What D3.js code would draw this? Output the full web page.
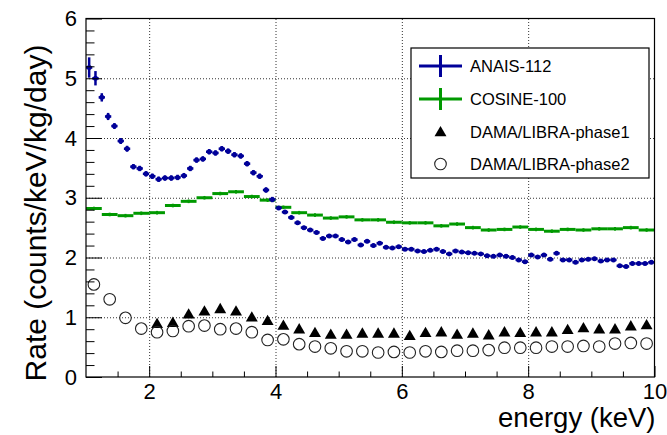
<!DOCTYPE html>
<html><head><meta charset="utf-8">
<script src="https://cdn.jsdelivr.net/npm/d3@7"></script>
<style>
html,body{margin:0;padding:0;background:#fff;}
svg{display:block;font-family:"Liberation Sans",Arial,Helvetica,sans-serif;}
</style></head><body>
<svg id="chart" width="667" height="435"></svg>
<script>
// ---------------- data ----------------
const anaisEnergy = [1.05,1.15,1.25,1.35,1.45,1.55,1.65,1.75,1.85,1.95,2.05,2.15,2.25,2.35,2.45,2.55,2.65,2.75,2.85,2.95,3.05,3.15,3.25,3.35,3.45,3.55,3.65,3.75,3.85,3.95,4.05,4.15,4.25,4.35,4.45,4.55,4.65,4.75,4.85,4.95,5.05,5.15,5.25,5.35,5.45,5.55,5.65,5.75,5.85,5.95,6.05,6.15,6.25,6.35,6.45,6.55,6.65,6.75,6.85,6.95,7.05,7.15,7.25,7.35,7.45,7.55,7.65,7.75,7.85,7.95,8.05,8.15,8.25,8.35,8.45,8.55,8.65,8.75,8.85,8.95,9.05,9.15,9.25,9.35,9.45,9.55,9.65,9.75,9.85,9.95];
const anaisRate = [5.18,5.00,4.68,4.36,4.20,3.95,3.82,3.52,3.49,3.40,
  3.36,3.31,3.33,3.33,3.34,3.37,3.49,3.63,3.65,3.77,
  3.75,3.82,3.78,3.72,3.70,3.57,3.42,3.36,3.13,2.97,
  2.83,2.76,2.67,2.58,2.50,2.46,2.42,2.32,2.36,2.36,
  2.30,2.26,2.30,2.21,2.27,2.20,2.24,2.17,2.16,2.18,
  2.14,2.14,2.11,2.10,2.12,2.14,2.10,2.06,2.11,2.09,
  2.08,2.07,2.06,2.03,2.02,2.04,2.02,2.00,1.96,1.93,
  2.04,2.01,2.04,1.97,2.07,1.96,1.96,1.92,1.96,1.97,
  1.98,1.94,1.96,1.96,1.86,1.85,1.90,1.90,1.90,1.92];
const anaisErr = [0.17,0.12,0.07,0.06,0.05,0.05,0.05,0.045,0.045,0.045,
  0.045,0.045,0.045,0.045,0.045,0.045,0.045,0.045,0.045,0.045,
  0.045,0.045,0.045,0.045,0.045,0.045,0.045,0.045,0.045,0.045,
  0.03,0.03,0.03,0.03,0.03,0.03,0.03,0.03,0.03,0.03,
  0.03,0.03,0.03,0.03,0.03,0.03,0.03,0.03,0.03,0.03,
  0.03,0.03,0.03,0.03,0.03,0.03,0.03,0.03,0.03,0.03,
  0.03,0.03,0.03,0.03,0.03,0.03,0.03,0.03,0.03,0.03,
  0.03,0.03,0.03,0.03,0.03,0.03,0.03,0.03,0.03,0.03,
  0.03,0.03,0.03,0.03,0.03,0.03,0.03,0.03,0.03,0.03];
const anaisHalfBin = 0.05;

const cosineEnergy = [1.125,1.375,1.625,1.875,2.125,2.375,2.625,2.875,3.125,3.375,3.625,3.875,4.125,4.375,4.625,4.875,5.125,5.375,5.625,5.875,6.125,6.375,6.625,6.875,7.125,7.375,7.625,7.875,8.125,8.375,8.625,8.875,9.125,9.375,9.625,9.875];
const cosineRate = [2.82,2.72,2.70,2.74,2.75,2.87,2.94,3.00,3.07,3.10,3.02,2.96,
  2.84,2.75,2.71,2.66,2.68,2.63,2.63,2.59,2.58,2.58,2.53,2.56,
  2.50,2.46,2.47,2.51,2.47,2.44,2.47,2.46,2.48,2.48,2.50,2.46];
const cosineErr = 0.03;
const cosineHalfBin = 0.125;

const dama1Energy = [2.125,2.375,2.625,2.875,3.125,3.375,3.625,3.875,4.125,4.375,4.625,4.875,5.125,5.375,5.625,5.875,6.125,6.375,6.625,6.875,7.125,7.375,7.625,7.875,8.125,8.375,8.625,8.875,9.125,9.375,9.625,9.875];
const dama1Rate = [0.89,0.91,1.05,1.10,1.14,1.10,1.00,0.94,0.86,0.80,
  0.74,0.71,0.71,0.73,0.73,0.73,0.69,0.74,0.75,0.71,
  0.73,0.70,0.75,0.74,0.75,0.75,0.79,0.82,0.80,0.80,0.85,0.87];

const dama2Energy = [1.125,1.375,1.625,1.875,2.125,2.375,2.625,2.875,3.125,3.375,3.625,3.875,4.125,4.375,4.625,4.875,5.125,5.375,5.625,5.875,6.125,6.375,6.625,6.875,7.125,7.375,7.625,7.875,8.125,8.375,8.625,8.875,9.125,9.375,9.625,9.875];
const dama2Rate = [1.55,1.30,0.99,0.81,0.75,0.77,0.85,0.86,0.80,0.81,0.75,0.62,
  0.63,0.55,0.51,0.48,0.43,0.43,0.41,0.42,0.41,0.43,0.42,0.44,
  0.44,0.45,0.49,0.49,0.49,0.51,0.51,0.52,0.51,0.56,0.57,0.56];

const xDomain = [1,10];
const yDomain = [0,6];
const xLabelTicks = [2,4,6,8,10];
const xMinorTicks = [1.5,2.5,3,3.5,4.5,5,5.5,6.5,7,7.5,8.5,9,9.5];
const xGridTicks = [2,4,6,8];
const yLabelTicks = [0,1,2,3,4,5,6];
const yMinorTicks = [0.2,0.4,0.6,0.8,1.2,1.4,1.6,1.8,2.2,2.4,2.6,2.8,3.2,3.4,3.6,3.8,4.2,4.4,4.6,4.8,5.2,5.4,5.6,5.8];
const yGridTicks = [1,2,3,4,5];
const legendLabels = ["ANAIS-112","COSINE-100","DAMA/LIBRA-phase1","DAMA/LIBRA-phase2"];
const xTitle = "energy (keV)";
const yTitle = "Rate (counts/keV/kg/day)";

// ---------------- chart ----------------
const W = 667, H = 435;
const M = {left:86, top:18.5, right:12.5, bottom:58};
const iw = W - M.left - M.right, ih = H - M.top - M.bottom;
const BLUE = "#000099", GREEN = "#009900";
const FONT = "Liberation Sans, Arial, sans-serif";

const x = d3.scaleLinear().domain(xDomain).range([0, iw]);
const y = d3.scaleLinear().domain(yDomain).range([ih, 0]);
const fmt = d3.format("d");

const svg = d3.select("#chart");
svg.append("rect").attr("width",W).attr("height",H).attr("fill","#fff");
const g = svg.append("g").attr("transform",`translate(${M.left},${M.top})`);

// grid
g.append("g").attr("transform",`translate(0,${ih})`)
  .call(d3.axisBottom(x).tickValues(xGridTicks).tickSize(-ih).tickFormat(""))
  .call(s=>s.select(".domain").remove())
  .selectAll("line").attr("stroke","#333").attr("stroke-dasharray","1,2").attr("stroke-width",1);
g.append("g")
  .call(d3.axisLeft(y).tickValues(yGridTicks).tickSize(-iw).tickFormat(""))
  .call(s=>s.select(".domain").remove())
  .selectAll("line").attr("stroke","#333").attr("stroke-dasharray","1,2").attr("stroke-width",1);

// COSINE-100
const cos = g.append("g");
cos.selectAll("line.h").data(cosineEnergy).join("line").attr("class","h")
  .attr("x1",(d)=>x(d-cosineHalfBin)).attr("x2",(d)=>x(d+cosineHalfBin))
  .attr("y1",(d,i)=>y(cosineRate[i])).attr("y2",(d,i)=>y(cosineRate[i]))
  .attr("stroke",GREEN).attr("stroke-width",3);
cos.selectAll("line.v").data(cosineEnergy).join("line").attr("class","v")
  .attr("x1",(d)=>x(d)).attr("x2",(d)=>x(d))
  .attr("y1",(d,i)=>y(cosineRate[i]-cosineErr)).attr("y2",(d,i)=>y(cosineRate[i]+cosineErr))
  .attr("stroke",GREEN).attr("stroke-width",2);

// ANAIS-112
const an = g.append("g");
an.selectAll("line.h").data(anaisEnergy).join("line").attr("class","h")
  .attr("x1",(d)=>x(d-anaisHalfBin)).attr("x2",(d)=>x(d+anaisHalfBin))
  .attr("y1",(d,i)=>y(anaisRate[i])).attr("y2",(d,i)=>y(anaisRate[i]))
  .attr("stroke",BLUE).attr("stroke-width",2.5);
an.selectAll("line.v").data(anaisEnergy).join("line").attr("class","v")
  .attr("x1",(d)=>x(d)).attr("x2",(d)=>x(d))
  .attr("y1",(d,i)=>y(anaisRate[i]-anaisErr[i])).attr("y2",(d,i)=>y(anaisRate[i]+anaisErr[i]))
  .attr("stroke",BLUE).attr("stroke-width",2.5);
an.selectAll("circle").data(anaisEnergy).join("circle")
  .attr("cx",(d)=>x(d)).attr("cy",(d,i)=>y(anaisRate[i])).attr("r",2.5).attr("fill",BLUE);

// DAMA phase1 triangles
const tri = d3.symbol().type(d3.symbolTriangle).size(62);
g.append("g").selectAll("path").data(dama1Energy).join("path")
  .attr("d",tri).attr("fill","#000")
  .attr("transform",(d,i)=>`translate(${x(d)},${y(dama1Rate[i])+0.8})`);

// DAMA phase2 open circles
g.append("g").selectAll("circle").data(dama2Energy).join("circle")
  .attr("cx",(d)=>x(d)).attr("cy",(d,i)=>y(dama2Rate[i])).attr("r",5.8)
  .attr("fill","none").attr("stroke","#222").attr("stroke-width",1.1);

// axes ticks (inward)
const xAxisG = g.append("g").attr("transform",`translate(0,${ih})`);
xAxisG.append("g").call(d3.axisBottom(x).tickValues(xMinorTicks).tickSizeInner(-5.5).tickSizeOuter(0).tickFormat(""))
  .call(s=>s.select(".domain").remove()).selectAll("line").attr("stroke","#000");
xAxisG.append("g").call(d3.axisBottom(x).tickValues(xLabelTicks).tickSizeInner(-11).tickSizeOuter(0).tickPadding(6).tickFormat(fmt))
  .call(s=>s.select(".domain").remove())
  .call(s=>s.selectAll("line").attr("stroke","#000"))
  .call(s=>s.selectAll("text").attr("font-size",22).attr("fill","#000").attr("font-family",FONT));
const yAxisG = g.append("g");
yAxisG.append("g").call(d3.axisLeft(y).tickValues(yMinorTicks).tickSizeInner(-8.5).tickSizeOuter(0).tickFormat(""))
  .call(s=>s.select(".domain").remove()).selectAll("line").attr("stroke","#000");
yAxisG.append("g").call(d3.axisLeft(y).tickValues(yLabelTicks).tickSizeInner(-16).tickSizeOuter(0).tickPadding(9).tickFormat(fmt))
  .call(s=>s.select(".domain").remove())
  .call(s=>s.selectAll("line").attr("stroke","#000"))
  .call(s=>s.selectAll("text").attr("font-size",22).attr("fill","#000").attr("font-family",FONT));

// frame
g.append("rect").attr("x",0).attr("y",0).attr("width",iw).attr("height",ih)
  .attr("fill","none").attr("stroke","#000").attr("stroke-width",1.2);

// titles
svg.append("text").attr("x",M.left+iw+1).attr("y",427).attr("text-anchor","end")
  .attr("font-size",27.5).attr("fill","#000").text(xTitle);
svg.append("text").attr("transform",`translate(46,213) rotate(-90)`)
  .attr("text-anchor","middle").attr("font-size",30).attr("fill","#000").text(yTitle);

// legend
const L = {x:411, y:48, w:238, h:130};
const lg = svg.append("g");
lg.append("rect").attr("x",L.x).attr("y",L.y).attr("width",L.w).attr("height",L.h)
  .attr("fill","#fff").attr("stroke","#000").attr("stroke-width",1.2);
const rowY = [66,99,132,164];
const mx = 440.5;
legendLabels.forEach((lab,i)=>{
  const yy = rowY[i];
  if(i<2){
    const c = i===0?BLUE:GREEN;
    lg.append("line").attr("x1",419).attr("x2",462).attr("y1",yy).attr("y2",yy).attr("stroke",c).attr("stroke-width",3);
    lg.append("line").attr("x1",mx).attr("x2",mx).attr("y1",yy-11).attr("y2",yy+11).attr("stroke",c).attr("stroke-width",3);
  } else if(i===2){
    lg.append("path").attr("d",tri).attr("fill","#000").attr("transform",`translate(${mx},${yy+0.8})`);
  } else {
    lg.append("circle").attr("cx",mx).attr("cy",yy).attr("r",5.8).attr("fill","none").attr("stroke","#222").attr("stroke-width",1.1);
  }
  lg.append("text").attr("x",470).attr("y",yy+6).attr("font-size",16.5).attr("fill","#000").text(lab);
});
</script>
</body></html>
